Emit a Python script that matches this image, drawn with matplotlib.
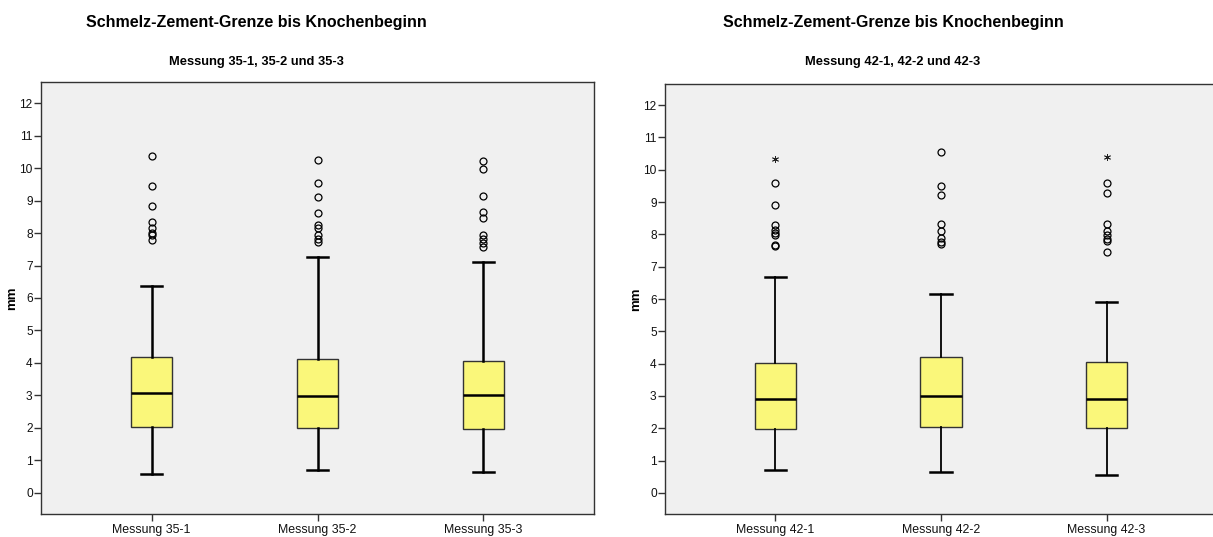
import matplotlib.pyplot as plt
from matplotlib import rc

rc('font', **{'family': 'Liberation Sans'})

# Left panel: Messung 35-x
labels_35 = ['Messung 35-1', 'Messung 35-2', 'Messung 35-3']
whislo_35 = [0.58, 0.70, 0.64]
q1_35 = [2.03, 2.00, 1.96]
med_35 = [3.08, 2.98, 3.01]
q3_35 = [4.17, 4.11, 4.06]
whishi_35 = [6.38, 7.26, 7.10]
fliers_35 = [
    [10.38, 9.46, 8.83, 8.33, 8.14, 8.00, 7.93, 7.80],
    [10.26, 9.55, 9.10, 8.63, 8.25, 8.14, 7.93, 7.82, 7.72],
    [10.22, 9.97, 9.15, 8.66, 8.46, 7.94, 7.82, 7.69, 7.58],
]
extremes_35 = [[], [], []]

# Right panel: Messung 42-x
labels_42 = ['Messung 42-1', 'Messung 42-2', 'Messung 42-3']
whislo_42 = [0.72, 0.66, 0.57]
q1_42 = [1.98, 2.03, 2.02]
med_42 = [2.90, 3.01, 2.90]
q3_42 = [4.02, 4.21, 4.06]
whishi_42 = [6.67, 6.14, 5.92]
fliers_42 = [
    [9.60, 8.90, 8.28, 8.14, 8.05, 7.98, 7.68, 7.65],
    [10.56, 9.48, 9.22, 8.31, 8.09, 7.89, 7.76, 7.69],
    [9.60, 9.27, 8.31, 8.11, 7.97, 7.87, 7.79, 7.45],
]
extremes_42 = [[10.32], [], [10.40]]

TITLE = 'Schmelz-Zement-Grenze bis Knochenbeginn'


def panel(fig, rect, labels, lo, q1, med, q3, hi, fliers, extremes, wlw):
    ax = fig.add_axes(rect)
    ax.set_facecolor('#F0F0F0')
    stats = []
    for i in range(len(labels)):
        stats.append({'whislo': lo[i], 'q1': q1[i], 'med': med[i], 'q3': q3[i],
                      'whishi': hi[i], 'fliers': fliers[i], 'label': labels[i]})
    pos = list(range(len(labels)))
    ax.bxp(stats, positions=pos, widths=0.25, patch_artist=True, showfliers=True,
           boxprops=dict(facecolor='#FAF77A', edgecolor='#333333', linewidth=1.0),
           medianprops=dict(color='black', linewidth=1.8),
           whiskerprops=dict(color='black', linewidth=wlw),
           capprops=dict(color='black', linewidth=1.8),
           capwidths=0.127,
           flierprops=dict(marker='o', markersize=5, markerfacecolor='none',
                           markeredgecolor='black', markeredgewidth=0.9))
    for i, ex in enumerate(extremes):
        if ex:
            ax.plot([pos[i]] * len(ex), ex, linestyle='none', marker=(6, 2, 0),
                    markersize=5, color='#222222', markeredgewidth=0.6)
    ax.set_xlim(-0.667, 2.667)
    ax.set_ylim(-0.65, 12.65)
    ax.set_yticks(range(0, 13))
    ax.set_xticks(pos)
    ax.set_xticklabels(labels)
    ax.tick_params(axis='both', which='major', labelsize=8.6, length=5,
                   width=1, color='#333333', labelcolor='#111111')
    ax.tick_params(axis='x', labelsize=8.9, pad=2.2)
    ax.tick_params(axis='y', pad=1)
    ax.set_ylabel('mm', fontsize=9.5, fontweight='bold', labelpad=1)
    for sp in ax.spines.values():
        sp.set_color('#333333')
        sp.set_linewidth(1.0)
    return ax


FIG = plt.figure(figsize=(12.13, 5.37), dpi=100)
W, H = 1213.0, 537.0

panel(FIG, [41 / W, 1 - 514 / H, 553 / W, 432 / H], labels_35,
      whislo_35, q1_35, med_35, q3_35, whishi_35, fliers_35, extremes_35, 1.8)
panel(FIG, [665 / W, 1 - 514 / H, 552 / W, 430 / H], labels_42,
      whislo_42, q1_42, med_42, q3_42, whishi_42, fliers_42, extremes_42, 1.3)

FIG.text(256 / W, 1 - 22 / H, TITLE, ha='center', va='center',
         fontsize=11.5, fontweight='bold')
FIG.text(256 / W, 1 - 62 / H, 'Messung 35-1, 35-2 und 35-3', ha='center',
         va='center', fontsize=9.3, fontweight='bold')
FIG.text(893 / W, 1 - 22 / H, TITLE, ha='center', va='center',
         fontsize=11.5, fontweight='bold')
FIG.text(893 / W, 1 - 62 / H, 'Messung 42-1, 42-2 und 42-3', ha='center',
         va='center', fontsize=9.3, fontweight='bold')

FIG.savefig('out.png', dpi=100)
